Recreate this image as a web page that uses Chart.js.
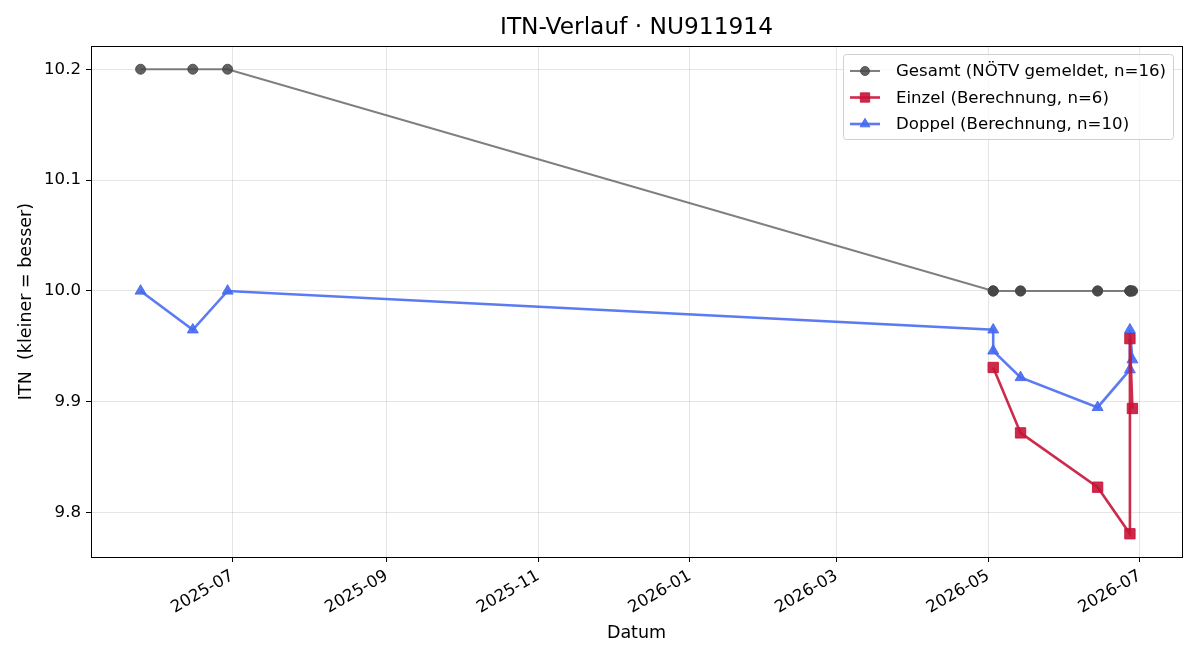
<!DOCTYPE html>
<html>
<head>
<meta charset="utf-8">
<script src="https://cdn.jsdelivr.net/npm/chart.js@4/dist/chart.umd.min.js"></script>
<style>
  html, body { margin: 0; padding: 0; background: #fff; }
  #wrap { width: 1200px; height: 660px; }
</style>
</head>
<body>
<div id="wrap"><canvas id="itnChart" width="1200" height="660"></canvas></div>
<script>
// Daten
const gesamtDates = ['2025-05-25', '2025-06-15', '2025-06-29', '2026-05-03', '2026-05-03', '2026-05-03',
    '2026-05-14', '2026-05-14', '2026-06-14', '2026-06-14', '2026-06-27', '2026-06-27', '2026-06-27',
    '2026-06-27', '2026-06-28', '2026-06-28'];
const gesamtValues = [10.2, 10.2, 10.2, 10.0, 10.0, 10.0, 10.0, 10.0, 10.0, 10.0, 10.0, 10.0, 10.0, 10.0, 10.0, 10.0];

const einzelDates = ['2026-05-03', '2026-05-14', '2026-06-14', '2026-06-27', '2026-06-27', '2026-06-28'];
const einzelValues = [9.931, 9.872, 9.823, 9.781, 9.957, 9.894];

const doppelDates = ['2025-05-25', '2025-06-15', '2025-06-29', '2026-05-03', '2026-05-03', '2026-05-14',
    '2026-06-14', '2026-06-27', '2026-06-27', '2026-06-28'];
const doppelValues = [10.0, 9.965, 10.0, 9.965, 9.946, 9.922, 9.895, 9.929, 9.965, 9.938];

const xTickLabels = ['2025-07', '2025-09', '2025-11', '2026-01', '2026-03', '2026-05', '2026-07'];
const yTicks = [9.8, 9.9, 10.0, 10.1, 10.2];

const FONT = "'DejaVu Sans', sans-serif";

function toTime(s) {
    const p = s.split('-').map(Number);
    return Date.UTC(p[0], p[1] - 1, p[2] || 1);
}
function toPoints(dates, values) {
    return dates.map((d, i) => ({ x: toTime(d), y: values[i] }));
}
function fmtMonth(v) {
    const d = new Date(v);
    return d.getUTCFullYear() + '-' + String(d.getUTCMonth() + 1).padStart(2, '0');
}

// Achsengrenzen wie matplotlib (5% Rand)
const allX = gesamtDates.concat(einzelDates, doppelDates).map(toTime);
const allY = gesamtValues.concat(einzelValues, doppelValues);
const xMinD = Math.min(...allX), xMaxD = Math.max(...allX);
const yMinD = Math.min(...allY), yMaxD = Math.max(...allY);
const xPad = (xMaxD - xMinD) * 0.05, yPad = (yMaxD - yMinD) * 0.05;

const series = [
    { label: 'Gesamt (NÖTV gemeldet, n=16)', line: 'rgba(95,95,95,0.8)', fill: 'rgba(70,70,70,0.85)', style: 'circle', r: 5, w: 2 },
    { label: 'Einzel (Berechnung, n=6)', line: 'rgba(200,20,55,0.9)', fill: 'rgba(200,20,55,0.9)', style: 'rect', r: 7.3, w: 2.6 },
    { label: 'Doppel (Berechnung, n=10)', line: 'rgba(70,105,240,0.88)', fill: 'rgba(70,105,240,0.9)', style: 'triangle', r: 6.3, w: 2.6 }
];

// Rahmen, Titel, Achsentitel und Legende
const decor = {
    id: 'decor',
    afterDraw(chart) {
        const ctx = chart.ctx;
        const a = chart.chartArea;
        ctx.save();
        ctx.strokeStyle = '#000';
        ctx.lineWidth = 1;
        ctx.strokeRect(Math.round(a.left) + 0.5, Math.round(a.top) + 0.5,
            Math.round(a.right - a.left), Math.round(a.bottom - a.top));

        ctx.fillStyle = '#000';
        ctx.textAlign = 'center';
        ctx.textBaseline = 'middle';
        ctx.font = '23.3px ' + FONT;
        ctx.fillText('ITN-Verlauf · NU911914', (a.left + a.right) / 2, 28);

        ctx.font = '17.5px ' + FONT;
        ctx.fillText('Datum', (a.left + a.right) / 2, 633);
        ctx.save();
        ctx.translate(26, (a.top + a.bottom) / 2);
        ctx.rotate(-Math.PI / 2);
        ctx.fillText('ITN  (kleiner = besser)', 0, 0);
        ctx.restore();

        // Legende
        const lx = 843, ly = 54, lw = 330, lh = 85;
        ctx.fillStyle = 'rgba(255,255,255,0.8)';
        ctx.strokeStyle = '#d0d0d0';
        ctx.lineWidth = 1;
        ctx.beginPath();
        ctx.roundRect(lx + 0.5, ly + 0.5, lw, lh, 3);
        ctx.fill();
        ctx.stroke();
        ctx.textAlign = 'left';
        ctx.font = '16.6px ' + FONT;
        series.forEach((s, i) => {
            const y = ly + 17 + i * 26.5;
            ctx.strokeStyle = s.line;
            ctx.lineWidth = s.w;
            ctx.beginPath();
            ctx.moveTo(850, y);
            ctx.lineTo(880, y);
            ctx.stroke();
            ctx.fillStyle = s.fill;
            ctx.strokeStyle = s.fill;
            ctx.lineWidth = 1;
            Chart.helpers.drawPoint(ctx, { pointStyle: s.style, radius: s.r * 0.9, rotation: 0, borderWidth: 1 }, 865, y);
            ctx.fillStyle = '#000';
            ctx.fillText(s.label, 896, y + 1);
        });
        ctx.restore();
    }
};

const datasets = [
    toPoints(gesamtDates, gesamtValues),
    toPoints(einzelDates, einzelValues),
    toPoints(doppelDates, doppelValues)
].map((data, i) => {
    const s = series[i];
    return {
        label: s.label,
        data: data,
        borderColor: s.line,
        borderWidth: s.w,
        backgroundColor: s.fill,
        pointBackgroundColor: s.fill,
        pointBorderColor: s.fill,
        pointBorderWidth: 1,
        pointStyle: s.style,
        pointRadius: s.r,
        pointHoverRadius: s.r,
        tension: 0,
        fill: false
    };
});

new Chart(document.getElementById('itnChart').getContext('2d'), {
    type: 'line',
    data: { datasets: datasets },
    plugins: [decor],
    options: {
        responsive: false,
        animation: false,
        events: [],
        layout: { padding: { top: 46, right: 18, left: 0, bottom: 0 } },
        plugins: {
            legend: { display: false },
            title: { display: false },
            tooltip: { enabled: false }
        },
        scales: {
            x: {
                type: 'linear',
                min: xMinD - xPad,
                max: xMaxD + xPad,
                afterBuildTicks: (scale) => {
                    scale.ticks = xTickLabels.map(l => ({ value: toTime(l + '-01') }));
                },
                afterFit: (scale) => { scale.height = 103; },
                ticks: {
                    callback: (v) => fmtMonth(v),
                    minRotation: 30,
                    maxRotation: 30,
                    autoSkip: false,
                    color: '#000',
                    padding: 4,
                    font: { family: FONT, size: 16.6 }
                },
                grid: { color: 'rgba(0,0,0,0.1)', tickColor: '#000', tickLength: 5, drawTicks: true },
                border: { display: false }
            },
            y: {
                min: yMinD - yPad,
                max: yMaxD + yPad,
                afterBuildTicks: (scale) => {
                    scale.ticks = yTicks.map(v => ({ value: v }));
                },
                afterFit: (scale) => { scale.width = 91; },
                ticks: {
                    callback: (v) => v.toFixed(1),
                    color: '#000',
                    padding: 5,
                    font: { family: FONT, size: 16.6 }
                },
                grid: { color: 'rgba(0,0,0,0.1)', tickColor: '#000', tickLength: 5 },
                border: { display: false }
            }
        }
    }
});
</script>
</body>
</html>
